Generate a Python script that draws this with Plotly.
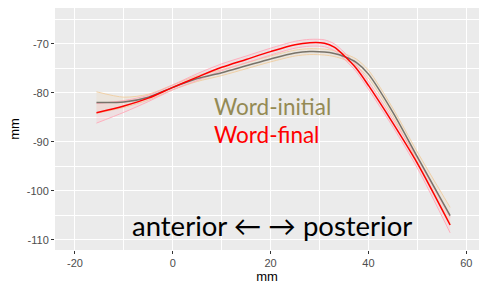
import plotly.graph_objects as go

# Positions along the tongue (mm)
x_mm = [-15.6, -10, -5, 0, 5, 10, 15, 20, 25, 28, 31, 33, 35, 37.5, 40, 45, 50, 56.7]

# Word-initial smooth + CI
initial_fit = [-82.0, -81.9, -80.9, -78.9, -77.1, -75.9, -74.5, -73.1, -71.9, -71.6, -71.7, -72.0, -72.6, -73.8, -76.2, -84.0, -93.1, -105.1]
initial_hi = [-79.8, -80.9, -80.3, -78.4, -76.5, -75.3, -73.9, -72.5, -71.3, -71.0, -71.1, -71.4, -72.0, -73.1, -75.4, -83.2, -92.1, -103.4]
initial_lo = [-84.2, -83.0, -81.5, -79.4, -77.7, -76.5, -75.1, -73.7, -72.5, -72.2, -72.3, -72.6, -73.2, -74.5, -77.0, -84.8, -94.1, -106.7]

# Word-final smooth + CI
final_fit = [-84.1, -82.7, -81.1, -78.9, -76.8, -74.8, -73.2, -71.6, -70.2, -69.8, -69.9, -70.7, -72.4, -75.0, -78.5, -86.2, -94.4, -107.0]
final_hi = [-82.2, -81.6, -80.5, -78.4, -76.1, -74.1, -72.5, -70.9, -69.5, -69.1, -69.2, -70.0, -71.7, -74.3, -77.7, -85.4, -93.4, -105.4]
final_lo = [-86.2, -84.0, -81.8, -79.4, -77.5, -75.5, -73.9, -72.3, -70.9, -70.5, -70.6, -71.4, -73.1, -75.7, -79.3, -87.0, -95.4, -108.6]

x_ticks = [-20, 0, 20, 40, 60]
x_ticktext = ["-20", "0", "20", "40", "60"]
y_ticks = [-110, -100, -90, -80, -70]
y_ticktext = ["-110", "-100", "-90", "-80", "-70"]

fig = go.Figure()

def band(xs, lo, hi, edge, fill):
    fig.add_trace(go.Scatter(x=xs, y=lo, mode="lines", line=dict(color=edge, width=1, shape="spline", smoothing=0.8),
                             hoverinfo="skip", showlegend=False))
    fig.add_trace(go.Scatter(x=xs, y=hi, mode="lines", line=dict(color=edge, width=1, shape="spline", smoothing=0.8),
                             fill="tonexty", fillcolor=fill, hoverinfo="skip", showlegend=False))

band(x_mm, initial_lo, initial_hi, "rgba(240,205,160,0.9)", "rgba(240,205,160,0.18)")
band(x_mm, final_lo, final_hi, "rgba(255,170,185,0.9)", "rgba(255,170,185,0.18)")

fig.add_trace(go.Scatter(x=x_mm, y=initial_fit, mode="lines",
                         line=dict(color="#77736a", width=1.5, shape="spline", smoothing=0.8), showlegend=False))
fig.add_trace(go.Scatter(x=x_mm, y=final_fit, mode="lines",
                         line=dict(color="#ff0000", width=1.5, shape="spline", smoothing=0.8), showlegend=False))

fig.add_annotation(text="Word-initial", xref="paper", yref="paper", x=0.370, y=0.595,
                   xanchor="left", yanchor="middle", showarrow=False,
                   font=dict(family="Lato", size=22.5, color="#948a54"))
fig.add_annotation(text="Word-final", xref="paper", yref="paper", x=0.370, y=0.478,
                   xanchor="left", yanchor="middle", showarrow=False,
                   font=dict(family="Lato", size=22.5, color="#ff0000"))
fig.add_annotation(text="anterior \u2190 \u2192 posterior", xref="paper", yref="paper", x=0.511, y=0.10,
                   xanchor="center", yanchor="middle", showarrow=False,
                   font=dict(family="Lato", size=27.5, color="#000000"))

axis_common = dict(
    showgrid=True, gridcolor="white", gridwidth=1.1,
    ticks="outside", ticklen=3, tickwidth=1, tickcolor="#333333",
    tickfont=dict(family="Liberation Sans", size=11, color="#4d4d4d"),
    zeroline=False, showline=False, automargin=False,
    minor=dict(showgrid=True, gridcolor="white", gridwidth=0.5),
)

fig.update_xaxes(range=[-24.08, 62.6], tickvals=x_ticks, ticktext=x_ticktext,
                 minor_tickvals=[-10, 10, 30, 50],
                 title=dict(text="mm", font=dict(family="Liberation Sans", size=13, color="#000000"), standoff=2),
                 **axis_common)
fig.update_yaxes(range=[-112.1, -62.7], tickvals=y_ticks, ticktext=y_ticktext,
                 minor_tickvals=[-105, -95, -85, -75, -65],
                 title=dict(text="mm", font=dict(family="Liberation Sans", size=13, color="#000000"), standoff=4),
                 **axis_common)

fig.update_layout(
    width=481, height=284,
    margin=dict(l=55, r=2, t=8, b=34),
    plot_bgcolor="#ebebeb", paper_bgcolor="white",
)

fig.write_html("out.html", config={"displayModeBar": False},
               post_script="document.body.style.margin='0';document.body.style.overflow='hidden';")
